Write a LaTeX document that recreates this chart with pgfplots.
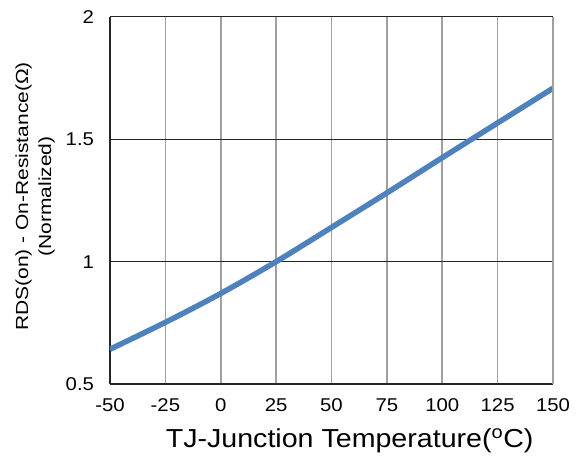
\documentclass[border=0pt]{standalone}
\usepackage{fontspec}
\setmainfont{Liberation Sans}
\usepackage{graphicx}
\usepackage{pgfplots}
\pgfplotsset{compat=1.18}
\definecolor{curveblue}{HTML}{4F81BD}
\definecolor{vgrid}{HTML}{A0A0A0}
\begin{document}
\begin{tikzpicture}
\begin{axis}[
  name=main,
  scale only axis,
  width=443pt, height=367pt,
  xmin=-50, xmax=150, ymin=0.5, ymax=2,
  xtick={-50,-25,0,25,50,75,100,125,150},
  ytick={0.5,1,1.5},
  extra y ticks={2},
  extra y tick style={grid style={vgrid, line width=1.4pt}},
  major tick length=0pt,
  axis x line*=bottom, axis y line*=left,
  axis line style={-, black!85, line width=1.4pt},
  xmajorgrids, ymajorgrids,
  x grid style={vgrid, line width=1.6pt},
  y grid style={black!85, line width=1pt},
  /pgf/number format/assume math mode=true,
  tick label style={font=\fontsize{18.5}{21}\selectfont, xscale=1.1},
  xticklabel style={yshift=-11pt},
  yticklabel style={xshift=-11pt},
  xlabel={TJ-Junction Temperature(\textsuperscript{o}C)},
  xlabel style={at={(axis description cs:0.541,-0.155)}, anchor=center,
    font=\fontsize{26}{30}\selectfont, xscale=1.1},
  ylabel={\scalebox{1.2}[1]{RDS(on) - On-Resistance(Ω)}\\\scalebox{1.2}[1]{(Normalized)}},
  ylabel style={at={(axis description cs:-0.169,0.511)}, anchor=center,
    align=center, font=\fontsize{17.5}{23}\selectfont},
]
\addplot[curveblue, line width=5.5pt, smooth] coordinates {
  (-50,0.642) (-25,0.752) (0,0.870) (25,1.000) (50,1.140)
  (75,1.281) (100,1.425) (125,1.567) (150,1.709)
};
\draw[vgrid, line width=1.4pt] (rel axis cs:1,0) -- (rel axis cs:1,1);
\end{axis}
\pgfresetboundingbox
\path (main.south west) ++(-110pt,-74pt) coordinate (bl);
\path (main.north east) ++(26pt,17pt) coordinate (tr);
\path[use as bounding box] (bl) rectangle (tr);
\end{tikzpicture}
\end{document}
